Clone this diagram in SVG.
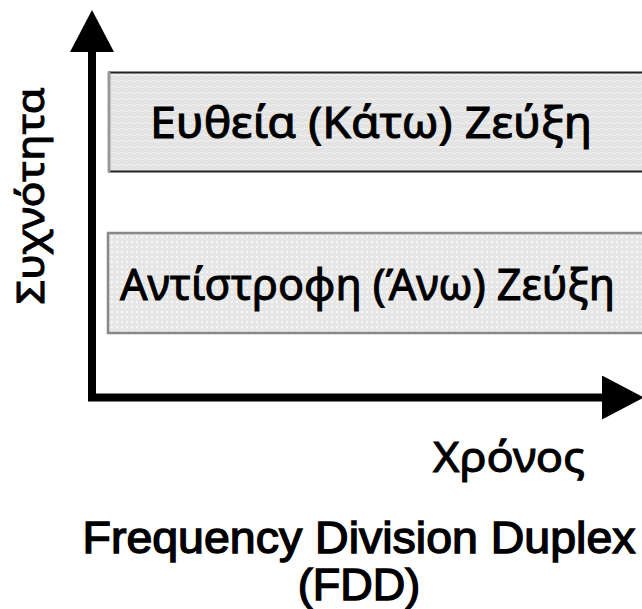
<svg xmlns="http://www.w3.org/2000/svg" width="642" height="609" viewBox="0 0 642 609">
  <style>
    .greek { font-family: "Noto Sans", "Open Sans", "DejaVu Sans", sans-serif; font-weight: normal; fill: #000; stroke: #000; stroke-width: 1; }
    .latin { font-family: "Liberation Sans", Arial, sans-serif; font-weight: normal; fill: #000; stroke: #000; stroke-width: 1.4; }
    .axis { fill: none; stroke: #000; stroke-width: 8; stroke-linejoin: miter; }
  </style>
  <defs>
    <pattern id="dots1" width="8" height="6" patternUnits="userSpaceOnUse">
      <rect width="8" height="6" fill="#e3e3e3"/>
      <path d="M0,3 Q2,1.5 4,3 T8,3" fill="none" stroke="#f2f2f2" stroke-width="1"/>
    </pattern>
    <pattern id="dots2" width="5" height="5" patternUnits="userSpaceOnUse">
      <rect width="5" height="5" fill="#e6e6e6"/>
      <rect x="1" y="1" width="2" height="2" fill="#f7f7f7"/>
    </pattern>
    <marker id="head" viewBox="0 0 42 44" refX="0" refY="22" markerWidth="42" markerHeight="44" markerUnits="userSpaceOnUse" orient="auto-start-reverse">
      <path d="M0,0 L42,22 L0,44 Z" fill="#000"/>
    </marker>
  </defs>

  <g id="connectors">
    <path class="axis" d="M92,52 L92,397.5 L602,397.5" marker-start="url(#head)" marker-end="url(#head)"/>
  </g>

  <g id="downlink">
    <rect x="108" y="72" width="545" height="100" fill="url(#dots1)" stroke="none"/>
    <line x1="108" y1="72.5" x2="642" y2="72.5" stroke="#222" stroke-width="2"/>
    <line x1="108" y1="171.5" x2="642" y2="171.5" stroke="#222" stroke-width="2"/>
    <line x1="109" y1="72" x2="109" y2="172" stroke="#999" stroke-width="3"/>
    <text class="greek" x="150" y="138" font-size="43" textLength="442" lengthAdjust="spacingAndGlyphs">Ευθεία (Κάτω) Ζεύξη</text>
  </g>

  <g id="uplink">
    <rect x="108" y="233" width="545" height="100" fill="url(#dots2)" stroke="#888" stroke-width="2.5"/>
    <text class="greek" x="120" y="300" font-size="43" textLength="495" lengthAdjust="spacingAndGlyphs">Αντίστροφη (Άνω) Ζεύξη</text>
  </g>

  <g id="y-label">
    <text class="greek" transform="translate(44,196) rotate(-90)" text-anchor="middle" font-size="39" textLength="217" lengthAdjust="spacingAndGlyphs">Συχνότητα</text>
  </g>

  <g id="x-label">
    <text class="greek" x="433" y="472" font-size="41" textLength="152" lengthAdjust="spacingAndGlyphs">Χρόνος</text>
  </g>

  <g id="caption">
    <text class="latin" x="359" y="553" font-size="45" text-anchor="middle" textLength="553" lengthAdjust="spacingAndGlyphs">Frequency Division Duplex</text>
    <text class="latin" x="359" y="600" font-size="45" text-anchor="middle">(FDD)</text>
  </g>
</svg>
